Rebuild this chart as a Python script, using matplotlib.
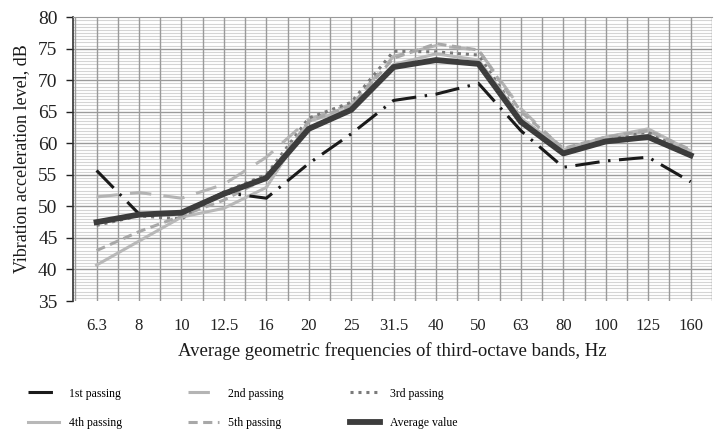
import numpy as np
import matplotlib
matplotlib.use("Agg")
import matplotlib.pyplot as plt
from matplotlib.ticker import MultipleLocator

freqs = ["6.3", "8", "10", "12.5", "16", "20", "25", "31.5", "40", "50", "63", "80", "100", "125", "160"]
pass1 = [55.7, 48.8, 49.0, 52.2, 51.3, 56.8, 61.5, 66.8, 67.8, 69.5, 62.0, 56.2, 57.2, 57.8, 53.9]
pass2 = [51.5, 52.2, 51.3, 53.5, 57.8, 63.8, 66.2, 73.8, 75.5, 74.8, 65.5, 59.0, 60.8, 62.0, 58.6]
pass3 = [47.0, 48.5, 48.0, 52.3, 55.0, 64.0, 66.5, 74.6, 74.5, 74.0, 64.0, 58.8, 60.8, 61.8, 58.5]
pass4 = [40.7, 44.5, 48.3, 49.7, 53.0, 63.5, 65.5, 72.5, 74.2, 73.2, 64.0, 59.0, 61.0, 62.3, 58.8]
pass5 = [43.0, 46.0, 48.5, 51.0, 54.5, 63.5, 66.0, 73.5, 75.8, 74.8, 65.0, 59.2, 61.0, 62.0, 59.0]
average = [47.5, 48.7, 49.0, 52.0, 54.5, 62.3, 65.3, 72.1, 73.2, 72.6, 63.4, 58.4, 60.3, 61.0, 58.1]

plt.rcParams['font.family'] = ['Liberation Serif', 'DejaVu Serif']

fig = plt.figure(figsize=(7.14, 4.30), dpi=100)
ax = fig.add_axes([0.102, 0.300, 0.895, 0.660])

x = np.arange(len(freqs))

# grid
ax.set_ylim(35, 80)
ax.set_xlim(-0.56, 14.5)
ax.yaxis.set_major_locator(MultipleLocator(5))
for yv in np.arange(35.5, 80, 0.5):
    if abs(yv % 5) > 1e-6:
        ax.axhline(yv, color='#d4d4d4', lw=0.8, zorder=0)
for yv in np.arange(40, 80, 5):
    ax.axhline(yv, color='#9a9a9a', lw=1.0, zorder=0)
for xv in np.arange(-0.5, 14.6, 0.5):
    ax.axvline(xv, color='#9a9a9a', lw=1.0, zorder=0)

ax.plot(x, pass1, color='#1a1a1a', lw=2.2, dashes=(8, 2.8, 0.8, 2.8), label='1st passing', zorder=3)
ax.plot(x, pass2, color='#b4b4b4', lw=2.2, dashes=(7, 4), label='2nd passing', zorder=2)
ax.plot(x, pass3, color='#7a7a7a', lw=2.2, dashes=(1, 1.6), label='3rd passing', zorder=2)
ax.plot(x, pass4, color='#b8b8b8', lw=2.2, label='4th passing', zorder=2)
ax.plot(x, pass5, color='#a8a8a8', lw=2.2, dashes=(3, 1.8), label='5th passing', zorder=2)
ax.plot(x, average, color='#3c3c3c', lw=4.2, label='Average value', zorder=4)

ax.set_xticks(x)
ax.set_xticklabels(freqs)
ax.tick_params(axis='x', length=0, labelsize=12, pad=12, colors='#222222')
ax.tick_params(axis='y', length=5, width=1, labelsize=14, colors='#222222', pad=6)

for s in ['right', 'bottom']:
    ax.spines[s].set_visible(False)
ax.spines['top'].set_color('#9a9a9a')
ax.spines['left'].set_color('#333333')
ax.spines['left'].set_linewidth(1.2)

ax.set_ylabel('Vibration acceleration level, dB', fontsize=13, color='#1a1a1a', labelpad=6)
ax.set_xlabel('Average geometric frequencies of third-octave bands, Hz', fontsize=13.5,
              color='#1a1a1a', labelpad=6)

handles, labels = ax.get_legend_handles_labels()
order = [0, 3, 1, 4, 2, 5]
leg = fig.legend([handles[i] for i in order], [labels[i] for i in order],
                 loc='lower left', bbox_to_anchor=(0.025, -0.023), ncol=3, frameon=False,
                 fontsize=8.5, handlelength=2.6, handletextpad=0.8,
                 columnspacing=5.6, labelspacing=1.5)

fig.savefig('out.png', dpi=100)
